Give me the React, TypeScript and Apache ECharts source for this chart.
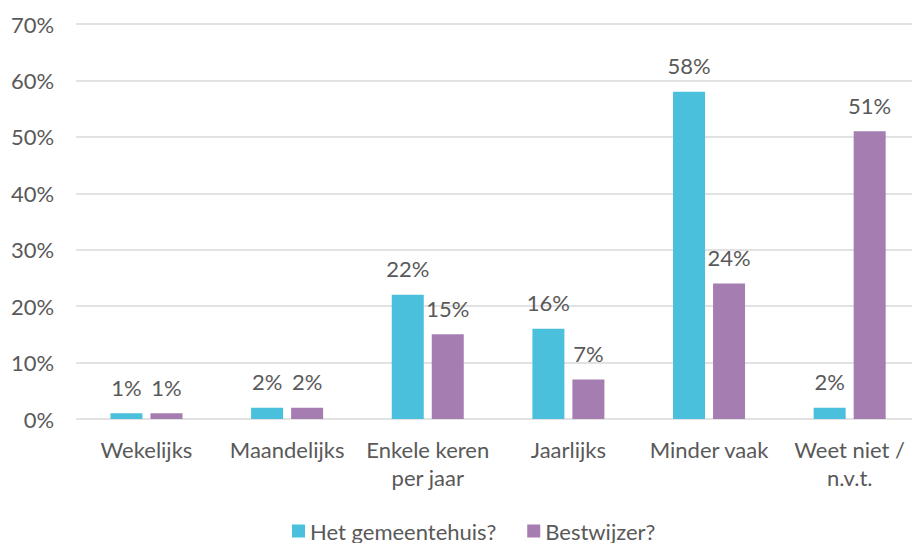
import React, { useEffect, useRef } from "react";
import * as echarts from "echarts";

const categories = ["Wekelijks", "Maandelijks", "Enkele keren\nper jaar", "Jaarlijks", "Minder vaak", "Weet niet /\nn.v.t."];
const gemeentehuis = [1, 2, 22, 16, 58, 2];
const bestwijzer = [1, 2, 15, 7, 24, 51];
const seriesNames = ["Het gemeentehuis?", "Bestwijzer?"];

const FONT = "Lato, 'Open Sans', sans-serif";
const TXT = "#595959";
const FS = 22;

export default function App() {
  const ref = useRef<HTMLDivElement>(null);
  useEffect(() => {
    const chart = echarts.init(ref.current!, null, { renderer: "svg" });
    const label = {
      show: true,
      position: "top" as const,
      distance: 15,
      formatter: "{c}%",
      color: TXT,
      fontSize: FS,
      fontFamily: FONT,
    };
    chart.setOption({
      animation: false,
      textStyle: { fontFamily: FONT },
      grid: { left: 67, right: 0, top: 16, bottom: 124, containLabel: false },
      legend: {
        bottom: -4,
        left: 279,
        itemWidth: 13,
        itemHeight: 13,
        itemGap: 31,
        icon: "rect",
        textStyle: { color: TXT, fontSize: FS, fontFamily: FONT },
        data: seriesNames,
      },
      xAxis: {
        type: "category",
        data: categories,
        axisLine: { show: false },
        axisTick: { show: false },
        axisLabel: { color: TXT, fontSize: FS, fontFamily: FONT, margin: 16, lineHeight: 28, interval: 0 },
      },
      yAxis: {
        type: "value",
        min: 0,
        max: 70,
        interval: 10,
        axisLabel: { formatter: "{value}%", color: TXT, fontSize: FS, fontFamily: FONT, margin: 22 },
        splitLine: { lineStyle: { color: "#D9D9D9", width: 1.5 } },
      },
      series: [
        {
          name: seriesNames[0],
          type: "bar",
          data: gemeentehuis,
          barWidth: 32,
          barGap: "25%",
          itemStyle: { color: "#4BC0DD" },
          label,
        },
        {
          name: seriesNames[1],
          type: "bar",
          data: bestwijzer,
          barWidth: 32,
          barGap: "25%",
          itemStyle: { color: "#A67DB1" },
          label,
        },
      ],
    });
    return () => chart.dispose();
  }, []);
  return <div ref={ref} style={{ width: 912, height: 535 }} />;
}
